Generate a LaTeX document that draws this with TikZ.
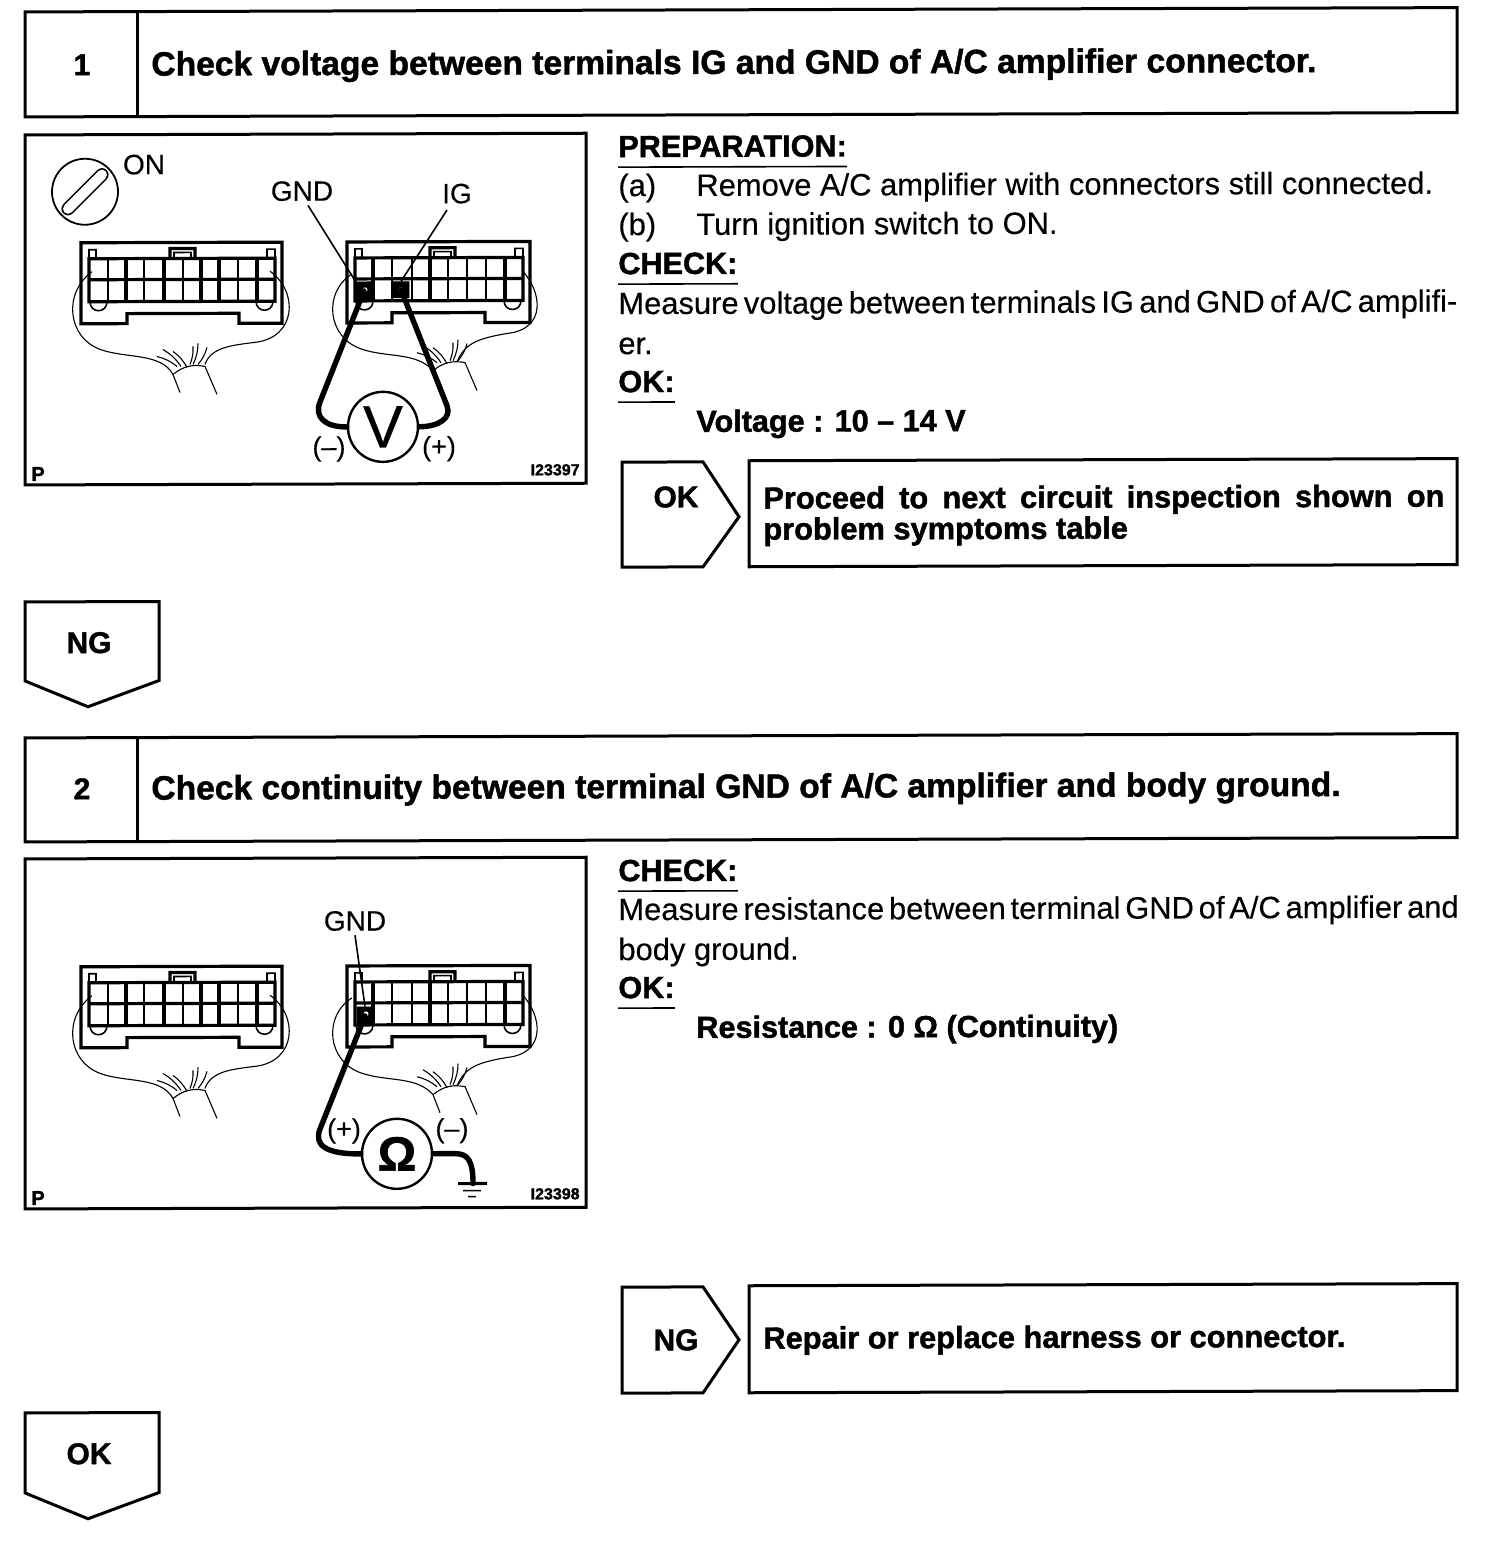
\documentclass[tikz,border=0pt]{standalone}
\usepackage{fontspec}
\setmainfont{Liberation Sans}[FakeBold=0.3,BoldFeatures={FakeBold=1.4}]
\usetikzlibrary{positioning}
% one connector: width, notch from, notch to, inner right edge, clip x, columns
\newcommand{\connbody}[6]{
\draw[cthick] (0,0) -- (#1,0) -- (#1,81) -- (#3,81) -- (#3,71) -- (#2,71) -- (#2,81) -- (0,81) -- cycle;
\draw[cthick] (8,16) -- (#4,16) -- (#4,59) -- (8,59) -- cycle;
\draw[cthick] (8,37) -- (#4,37);
\draw[cthin] (8,16) -- (8,7) -- (15,7) -- (15,16);
\draw[cthin] (#4,16) -- (#4,7) -- ({#4-8},7) -- ({#4-8},16);
\draw[cthick] (#5,16) -- (#5,6) -- ({#5+25},6) -- ({#5+25},16);
\draw[cthin] ({#5+4},16) -- ({#5+4},10) -- ({#5+21},10) -- ({#5+21},16);
\draw[cthin] (9,59) .. controls (9,71) and (26,71) .. (26,59);
\draw[cthin] ({#4-19},59) .. controls ({#4-19},71) and ({#4-2},71) .. ({#4-2},59);
\foreach \c/\w in {#6}
\draw[\w] (\c,16) -- (\c,59);
}
\newcommand{\stump}{
\draw[wire] (0,0) -- (7,18) (0,0) to[bend left=25] (32,-8) -- (44,20);
\foreach \a/\b/\c/\d in {4/-8/-16/-18,8/-8/-10/-25,14/-7/0/-23,17/-10/20/-28,20/-10/25/-31,25/-10/34/-27}
\draw[wire] (\a,\b) to[bend right=12] (\c,\d);
}
\begin{document}
\begin{tikzpicture}[
x=.5pt,y=-.5pt,
line join=miter,
every node/.style={inner sep=0pt,transform shape},
boxln/.style={draw,line width=1.5pt},
cthick/.style={line width=1.6pt},
cthin/.style={line width=.8pt},
wire/.style={line width=.55pt},
probe/.style={line width=2.7pt,line cap=round},
body/.style={anchor=base west,font=\fontsize{15.45}{17}\selectfont},
tight/.style={body,execute at begin node={\spaceskip=.17em}},
tighter/.style={body,execute at begin node={\spaceskip=.155em}},
head/.style={anchor=base west,font=\fontsize{15.3}{17}\selectfont\bfseries},
title/.style={anchor=base west,font=\fontsize{16.8}{19}\selectfont\bfseries},
num/.style={font=\fontsize{15}{18}\selectfont\bfseries},
flag/.style={font=\fontsize{15}{18}\selectfont\bfseries},
rtext/.style={anchor=base west,font=\fontsize{15.4}{15.5}\selectfont\bfseries},
lab/.style={font=\fontsize{14}{16}\selectfont},
pm/.style={font=\fontsize{13.5}{15}\selectfont},
code/.style={anchor=base east,font=\fontsize{8}{10}\selectfont\bfseries},
pnote/.style={anchor=base west,font=\fontsize{10}{12}\selectfont\bfseries},
meter/.style={circle,draw,fill=white,line width=1.2pt,minimum size=35pt},
tenconn/.pic={
\connbody{201}{46}{158}{194}{89}{27/cthin,45/cthick,63/cthin,83/cthick,102/cthin,120/cthick,138/cthick,157/cthin,176/cthick}
\draw[wire] (11,29) .. controls (-18,50) and (-14,95) .. (20,107) .. controls (45,116) and (80,110) .. (92,132);
\draw[wire] (189,29) .. controls (218,50) and (215,95) .. (175,100) .. controls (150,103) and (130,105) .. (124,122);
},
nineconn/.pic={
\connbody{183}{45}{138}{176}{83}{26/cthick,45/cthin,65/cthin,83/cthick,101/cthin,120/cthin,139/cthin,158/cthick}
\draw[wire] (5,32) .. controls (-24,50) and (-20,95) .. (14,107) .. controls (39,116) and (70,110) .. (86,129);
\draw[wire] (175,29) .. controls (195,50) and (200,88) .. (160,92) .. controls (130,97) and (118,102) .. (110,120);
}
]
\useasboundingbox (0,0) rectangle (1504,1542);
\begin{scope}[cm={1,.003,0,1,(0,0)}]
% step 1
\draw[boxln] (25,12) rectangle (1457,117);
\draw[boxln] (137,12) -- (137,117);
\node[num] (n1) at (82,65) {1};
\node[title] (t1) at (151,76) {Check voltage between terminals IG and GND of A/C amplifier connector.};
\draw[boxln] (25,135) rectangle (586,485);
\pic at (81,243) {tenconn};
\pic at (347,243) {nineconn};
\begin{scope}[shift={(173,375)}] \stump \end{scope}
\begin{scope}[shift={(433,372)}] \stump \end{scope}
\node[circle,draw,line width=.9pt,minimum size=33pt] (sw) at (85,192) {};
\coordinate (swa) at (68,209);
\coordinate (swb) at (102,175);
\draw[line width=.8pt,double,double distance=5pt,line cap=round] (swa) -- (swb);
\node[lab] (on) at (144,165) {ON};
\node[lab] (lg1) at (302,192) {GND};
\node[lab] (li1) at (457,195) {IG};
\node[draw,fill=black,minimum width=8pt,minimum height=9pt] (tg1) at (364,292) {};
\node[draw,fill=black,minimum width=8pt,minimum height=8pt] (ti1) at (401,291) {};
\node[circle,fill=white,minimum size=2.5pt] (tgd) at (365,291) {};
\node[circle,fill=white,minimum size=2.5pt] (tid) at (401,291) {};
\draw[cthin] (lg1.south) ++(6,4) -- (tg1.north west);
\draw[cthin] (li1.south) ++(-10,6) -- (ti1.north);
\node[meter] (vm) at (383,428) {};
\node[font=\fontsize{30}{30}\selectfont] (vt) at (vm) {V};
\draw[probe] (tg1.center) -- (320,403) .. controls (314,418) and (325,428) .. (vm.west);
\draw[probe] (ti1.center) -- (447,407) .. controls (452,420) and (438,428) .. (vm.east);
\node[pm] (vm1) at (329,450) {(--)};
\node[pm] (vp1) at (439,450) {(+)};
\node[code] (c1) at (580,477) {I23397};
\node[pnote] (p1) at (31,481) {P};
% text of step 1
\node[head] (hprep) at (618,159) {PREPARATION:};
\node[body] (a1) at (618,198) {(a)};
\node[body] (a2) at (696,198) {Remove A/C amplifier with connectors still connected.};
\node[body] (b1) at (618,237) {(b)};
\node[body] (b2) at (696,237) {Turn ignition switch to ON.};
\node[head] (hchk) at (618,276) {CHECK:};
\node[tight] (m1) at (618,316) {Measure voltage between terminals IG and GND of A/C amplifi-};
\node[body] (m2) at (618,356) {er.};
\node[head] (hok) at (618,394) {OK:};
\node[head] (v1) at (696,434) {Voltage : 10 -- 14 V};
\draw[boxln] (622,464) -- (703,464) -- (739,519) -- (703,569) -- (622,569) -- cycle;
\node[flag] (ok1) at (676,499) {OK};
\draw[boxln] (749,463) rectangle (1457,569);
\node[rtext,text width=340.5pt,align=justify] (r1) at (763,511) {Proceed to next circuit inspection shown on problem symptoms table};
\draw[boxln] (25,602) -- (159,602) -- (159,681) -- (88,707) -- (25,681) -- cycle;
\node[flag] (ng1) at (89,643) {NG};
% step 2
\draw[boxln] (25,738) rectangle (1457,842);
\draw[boxln] (137,738) -- (137,842);
\node[num] (n2) at (82,789) {2};
\node[title] (t2) at (151,800) {Check continuity between terminal GND of A/C amplifier and body ground.};
\draw[boxln] (25,859) rectangle (586,1209);
\pic at (81,967) {tenconn};
\pic at (347,967) {nineconn};
\begin{scope}[shift={(173,1099)}] \stump \end{scope}
\begin{scope}[shift={(433,1096)}] \stump \end{scope}
\node[lab] (lg2) at (355,922) {GND};
\node[draw,fill=black,minimum width=8pt,minimum height=9pt] (tg2) at (365,1017) {};
\node[circle,fill=white,minimum size=2.5pt] (tgh) at (366,1015) {};
\draw[cthin] (lg2.south) ++(0,4) -- (tg2.north);
\node[meter] (om) at (397,1155) {};
\node[font=\fontsize{24}{24}\selectfont\bfseries] (ot) at (om) {Ω};
\draw[probe] (tg2.center) -- (320,1130) .. controls (314,1146) and (325,1155) .. (om.west);
\coordinate (gt) at (473,1185);
\draw[probe] (om.east) -- (455,1155) .. controls (468,1155) and (473,1162) .. (gt);
\draw[cthick] (458,1185) -- (487,1185);
\draw[cthin] (463,1192) -- (481,1192);
\draw[cthin] (468,1198) -- (476,1198);
\node[pm] (vp2) at (344,1132) {(+)};
\node[pm] (vm2) at (452,1132) {(--)};
\node[code] (c2) at (580,1201) {I23398};
\node[pnote] (p2) at (31,1205) {P};
% text of step 2
\node[head] (hchk2) at (618,883) {CHECK:};
\node[tighter] (q1) at (618,922) {Measure resistance between terminal GND of A/C amplifier and};
\node[body] (q2) at (618,962) {body ground.};
\node[head] (hok2) at (618,1000) {OK:};
\node[head] (w1) at (696,1040) {Resistance : 0 Ω (Continuity)};
\draw[boxln] (622,1289) -- (703,1289) -- (739,1342) -- (703,1395) -- (622,1395) -- cycle;
\node[flag] (ng2) at (676,1342) {NG};
\draw[boxln] (749,1288) rectangle (1457,1395);
\node[rtext] (r2) at (763,1351) {Repair or replace harness or connector.};
\draw[boxln] (25,1413) -- (159,1413) -- (159,1493) -- (88,1519) -- (25,1493) -- cycle;
\node[flag] (ok2) at (89,1454) {OK};
% rules under the headings
\foreach \h in {hprep,hchk,hok,hchk2,hok2}
\draw[cthin] ([yshift=-5pt]\h.base west) -- ([yshift=-5pt]\h.base east);
\end{scope}
\end{tikzpicture}
\end{document}
